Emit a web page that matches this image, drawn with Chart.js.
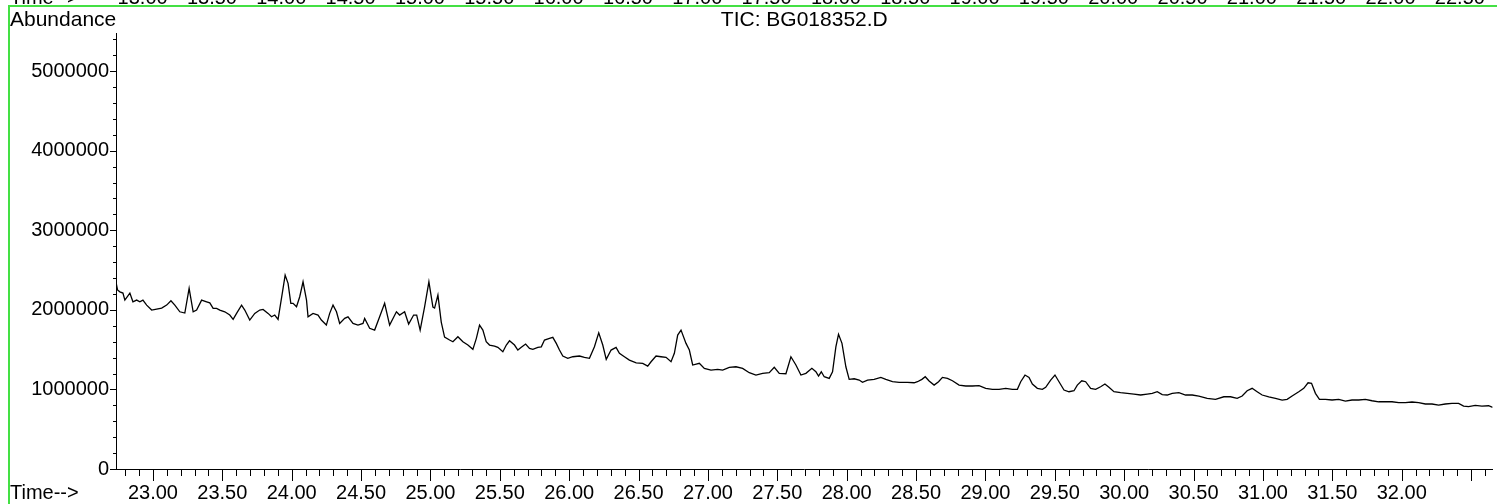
<!DOCTYPE html>
<html><head><meta charset="utf-8">
<script src="https://cdn.jsdelivr.net/npm/chart.js@4.4.1/dist/chart.umd.min.js"></script>
<style>html,body{margin:0;padding:0;background:#fff;overflow:hidden}canvas{display:block}</style>
</head><body>
<canvas id="c" width="1497" height="504"></canvas>
<script>
// retention time (min)
const times = [
22.734,22.745,22.762,22.784,22.798,22.834,22.856,22.883,22.906,22.928,
22.955,22.991,23.027,23.063,23.099,23.130,23.158,23.194,23.230,23.261,
23.290,23.315,23.351,23.387,23.410,23.434,23.459,23.482,23.518,23.554,
23.578,23.603,23.639,23.662,23.698,23.734,23.770,23.794,23.830,23.855,
23.878,23.902,23.934,23.953,23.974,23.994,24.010,24.035,24.058,24.082,
24.107,24.118,24.154,24.190,24.214,24.250,24.274,24.298,24.323,24.346,
24.382,24.406,24.442,24.478,24.514,24.526,24.562,24.598,24.634,24.670,
24.706,24.755,24.778,24.814,24.843,24.879,24.901,24.926,24.958,24.989,
25.018,25.030,25.054,25.078,25.102,25.138,25.162,25.198,25.234,25.270,
25.306,25.331,25.354,25.378,25.402,25.426,25.462,25.486,25.522,25.547,
25.570,25.606,25.630,25.655,25.686,25.714,25.738,25.774,25.799,25.822,
25.858,25.882,25.907,25.930,25.954,25.990,26.026,26.074,26.110,26.146,
26.182,26.213,26.242,26.267,26.302,26.338,26.362,26.398,26.434,26.483,
26.530,26.566,26.590,26.626,26.662,26.698,26.734,26.758,26.782,26.806,
26.842,26.866,26.890,26.938,26.974,27.022,27.070,27.106,27.154,27.202,
27.250,27.298,27.346,27.394,27.442,27.478,27.514,27.562,27.598,27.634,
27.670,27.706,27.749,27.778,27.797,27.817,27.838,27.874,27.898,27.922,
27.941,27.966,27.994,28.018,28.054,28.090,28.114,28.150,28.198,28.246,
28.282,28.330,28.378,28.438,28.486,28.510,28.542,28.566,28.594,28.630,
28.662,28.690,28.726,28.762,28.810,28.858,28.906,28.954,29.002,29.050,
29.098,29.146,29.194,29.230,29.254,29.285,29.314,29.338,29.374,29.410,
29.434,29.470,29.501,29.530,29.566,29.602,29.638,29.662,29.694,29.722,
29.758,29.794,29.830,29.861,29.890,29.926,29.974,30.022,30.070,30.118,
30.166,30.202,30.238,30.274,30.310,30.346,30.394,30.442,30.490,30.538,
30.598,30.658,30.718,30.766,30.814,30.850,30.886,30.922,30.958,30.994,
31.042,31.090,31.138,31.174,31.210,31.258,31.294,31.325,31.350,31.378,
31.407,31.450,31.498,31.546,31.594,31.642,31.690,31.738,31.786,31.834,
31.882,31.930,31.978,32.026,32.074,32.122,32.170,32.218,32.266,32.314,
32.362,32.410,32.446,32.482,32.530,32.578,32.626,32.655
];
// total ion current abundance
const abundance = [
2350000,2250000,2227000,2211000,2123000,2211000,2102000,2123000,2102000,2123000,
2060000,1998000,2010000,2023000,2060000,2114000,2060000,1976000,1960000,2270000,
1976000,1998000,2123000,2102000,2089000,2019000,2019000,1998000,1976000,1935000,
1881000,1956000,2060000,1998000,1872000,1956000,1998000,2006000,1956000,1913000,
1935000,1881000,2227000,2437000,2333000,2082000,2082000,2039000,2165000,2353000,
2123000,1913000,1956000,1935000,1872000,1809000,1956000,2060000,1976000,1830000,
1893000,1913000,1830000,1809000,1830000,1893000,1768000,1746000,1913000,2082000,
1809000,1976000,1935000,1976000,1822000,1935000,1935000,1746000,2039000,2353000,
2035000,2023000,2186000,1847000,1658000,1621000,1599000,1662000,1599000,1558000,
1504000,1642000,1809000,1746000,1599000,1558000,1545000,1529000,1474000,1558000,
1612000,1558000,1495000,1529000,1570000,1516000,1504000,1529000,1536000,1621000,
1642000,1655000,1579000,1495000,1420000,1391000,1411000,1420000,1403000,1391000,
1536000,1712000,1558000,1378000,1495000,1529000,1454000,1411000,1369000,1335000,
1328000,1294000,1348000,1420000,1411000,1403000,1348000,1454000,1683000,1746000,
1579000,1495000,1307000,1328000,1265000,1244000,1253000,1244000,1278000,1285000,
1265000,1210000,1181000,1202000,1210000,1278000,1202000,1197000,1411000,1307000,
1181000,1202000,1265000,1222000,1168000,1222000,1160000,1139000,1222000,1536000,
1692000,1579000,1285000,1127000,1134000,1118000,1089000,1118000,1127000,1152000,
1127000,1097000,1089000,1089000,1084000,1097000,1127000,1160000,1106000,1055000,
1097000,1152000,1139000,1109000,1055000,1043000,1043000,1047000,1014000,1001000,
1001000,1014000,1001000,1001000,1097000,1181000,1152000,1068000,1014000,1001000,
1026000,1118000,1181000,1097000,992000,971000,984000,1055000,1109000,1097000,
1014000,1001000,1034000,1068000,1026000,971000,959000,951000,942000,930000,
942000,951000,971000,936000,930000,951000,959000,930000,930000,917000,
888000,876000,908000,908000,888000,917000,984000,1014000,971000,930000,
908000,888000,867000,876000,917000,971000,1014000,1084000,1077000,951000,
876000,876000,867000,876000,854000,867000,867000,876000,858000,845000,
845000,845000,833000,833000,842000,833000,817000,817000,804000,817000,
825000,825000,791000,783000,800000,791000,795000,775000
];
// axis settings
const xRange = [22.734, 32.655];
const yRange = [0, 5480000];
const xMinorStep = 0.1, xMajorEvery = 5, xLastLabel = 32.0;
const yMinorStep = 200000, yMajorEvery = 5;
const titleText = 'TIC: BG018352.D';
const yAxisTitle = 'Abundance';
const xAxisTitle = 'Time-->';
// labels of the previous (cropped) panel visible at the very top
const prevPanelLabels = ['13.00','13.50','14.00','14.50','15.00','15.50','16.00','16.50','17.00','17.50','18.00','18.50','19.00','19.50','20.00','20.50','21.00','21.50','22.00','22.50'];

const FONT = '"Liberation Sans", Arial, Helvetica, sans-serif';
const FS = 20;

const xTickValues = [];
for (let n = Math.ceil(xRange[0] / xMinorStep); n * xMinorStep <= xRange[1] + 1e-9; n++) xTickValues.push(+(n * xMinorStep).toFixed(2));
const yTickValues = [];
for (let n = 0; n * yMinorStep <= yRange[1]; n++) yTickValues.push(n * yMinorStep);

const points = times.map((t, i) => ({x: t, y: abundance[i]}));

function isStep(v, step) { const n = Math.round(v / step); return Math.abs(v - n * step) < step * 1e-4; }

const decor = {
  id: 'decor',
  afterDraw(chart) {
    const ctx = chart.ctx, a = chart.chartArea, xs = chart.scales.x, ys = chart.scales.y;
    ctx.save();
    ctx.strokeStyle = '#000'; ctx.lineWidth = 1;
    xs.ticks.forEach(t => {
      const n = Math.round(t.value / xMinorStep);
      const len = (n % xMajorEvery === 0) ? 12 : 7;
      const px = Math.round(xs.getPixelForValue(t.value)) + 0.5;
      ctx.beginPath(); ctx.moveTo(px, a.bottom); ctx.lineTo(px, a.bottom + len); ctx.stroke();
    });
    ys.ticks.forEach(t => {
      const n = Math.round(t.value / yMinorStep);
      const len = (n % yMajorEvery === 0) ? 6 : 3;
      const py = Math.round(ys.getPixelForValue(t.value)) + 0.5;
      ctx.beginPath(); ctx.moveTo(a.left - len, py); ctx.lineTo(a.left, py); ctx.stroke();
    });
    ctx.fillStyle = '#000';
    ctx.textBaseline = 'alphabetic';
    ctx.textAlign = 'left';
    ctx.font = FS + 'px ' + FONT;
    ctx.fillText(xAxisTitle, 10, 499);
    ctx.fillText(xAxisTitle, 10, 4);
    ctx.font = '21px ' + FONT;
    ctx.fillText(yAxisTitle, 10, 26);
    ctx.textAlign = 'center';
    ctx.fillText(titleText, (a.left + a.right) / 2, 26);
    ctx.font = FS + 'px ' + FONT;
    prevPanelLabels.forEach((s, i) => ctx.fillText(s, 142.6 + i * 69.33, 4));
    // green frame
    ctx.strokeStyle = '#44e044'; ctx.lineWidth = 2;
    ctx.beginPath(); ctx.moveTo(8, 6); ctx.lineTo(1497, 6); ctx.stroke();
    ctx.beginPath(); ctx.moveTo(9, 6); ctx.lineTo(9, 504); ctx.stroke();
    ctx.restore();
  }
};

new Chart(document.getElementById('c'), {
  type: 'line',
  data: { datasets: [{ data: points, borderColor: '#000', borderWidth: 1.3, pointRadius: 0, tension: 0, fill: false }] },
  options: {
    responsive: false, animation: false, events: [],
    layout: { padding: { left: 0, top: 33, right: 3, bottom: 0 } },
    plugins: { legend: { display: false }, tooltip: { enabled: false }, title: { display: false } },
    scales: {
      x: {
        type: 'linear', min: xRange[0], max: xRange[1],
        grid: { display: false, drawTicks: false },
        border: { display: true, color: '#000', width: 1 },
        afterBuildTicks: s => { s.ticks = xTickValues.map(v => ({value: v})); },
        ticks: {
          autoSkip: false, maxRotation: 0, minRotation: 0, padding: 12,
          color: '#000', font: { family: FONT, size: FS },
          callback: v => (isStep(v, 0.5) && v <= xLastLabel + 1e-6) ? v.toFixed(2) : ''
        },
        afterFit: s => { s.height = 35; }
      },
      y: {
        type: 'linear', min: yRange[0], max: yRange[1],
        grid: { display: false, drawTicks: false },
        border: { display: true, color: '#000', width: 1 },
        afterBuildTicks: s => { s.ticks = yTickValues.map(v => ({value: v})); },
        ticks: {
          autoSkip: false, padding: 7,
          color: '#000', font: { family: FONT, size: FS },
          callback: v => isStep(v, 1000000) ? String(Math.round(v)) : ''
        },
        afterFit: s => { s.width = 116; }
      }
    }
  },
  plugins: [decor]
});
</script>
</body></html>
